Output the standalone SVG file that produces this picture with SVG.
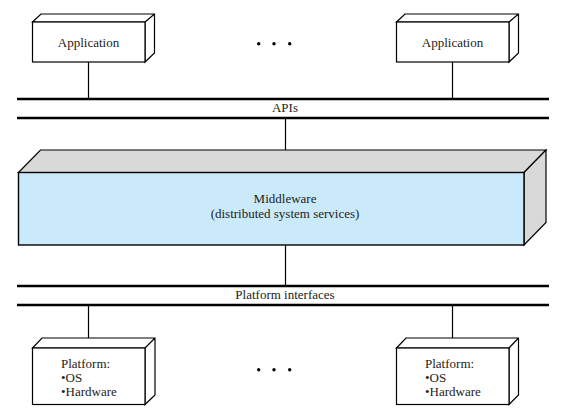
<svg xmlns="http://www.w3.org/2000/svg" width="563" height="420" viewBox="0 0 563 420">
<style>
text{font-family:"Liberation Serif","Times New Roman",serif;font-size:13px;fill:#222}
.box{fill:#fff;stroke:#000;stroke-width:1.2}
.bar{stroke:#000;stroke-width:2.4}
.ln{stroke:#000;stroke-width:1.2;fill:none}
.mid{text-anchor:middle}
</style>
<rect width="563" height="420" fill="#fff"/>
<g id="connectors">
<line class="ln" x1="88.5" y1="62" x2="88.5" y2="99"/>
<line class="ln" x1="452.5" y1="62" x2="452.5" y2="99"/>
<line class="ln" x1="285.5" y1="118" x2="285.5" y2="150"/>
<line class="ln" x1="285.5" y1="245" x2="285.5" y2="286"/>
<line class="ln" x1="88.5" y1="305" x2="88.5" y2="348"/>
<line class="ln" x1="452.5" y1="305" x2="452.5" y2="348"/>
</g>
<g id="apis">
<line class="bar" x1="17" y1="99" x2="549" y2="99"/>
<line class="bar" x1="17" y1="118" x2="549" y2="118"/>
<text class="mid" x="285" y="112">APIs</text>
</g>
<g id="platform-interfaces">
<line class="bar" x1="17" y1="286" x2="549" y2="286"/>
<line class="bar" x1="17" y1="305" x2="549" y2="305"/>
<text class="mid" x="285" y="299">Platform interfaces</text>
</g>
<g id="app1">
<path class="box" d="M32.5 22 L41 14 L154.5 14 L154.5 53 L145 62 L145 22 Z M145 22 L154.5 14"/>
<rect class="box" x="32.5" y="22" width="112.5" height="40"/>
<text class="mid" x="88.5" y="46.5">Application</text>
</g>
<g id="app2">
<path class="box" d="M396.5 22 L405 14 L518.5 14 L518.5 53 L509 62 L509 22 Z M509 22 L518.5 14"/>
<rect class="box" x="396.5" y="22" width="112.5" height="40"/>
<text class="mid" x="452.5" y="46.5">Application</text>
</g>
<g id="dots-top" fill="#000">
<circle cx="258.7" cy="43.7" r="1.7"/>
<circle cx="274" cy="43.7" r="1.7"/>
<circle cx="289.7" cy="43.7" r="1.7"/>
</g>
<g id="middleware">
<path d="M18.5 172.5 L40.5 150 L546 150 L524 172.5 Z" fill="#d9d9d9" stroke="#000" stroke-width="1.2"/>
<path d="M524 172.5 L546 150 L546 222.5 L524 245 Z" fill="#d9d9d9" stroke="#000" stroke-width="1.2"/>
<rect x="18.5" y="172.5" width="505.5" height="72.5" fill="#cbeaf9" stroke="#000" stroke-width="1.4"/>
<text class="mid" x="285" y="203">Middleware</text>
<text class="mid" x="285" y="218">(distributed system services)</text>
</g>
<g id="platform1">
<path class="box" d="M32.5 348 L42 338 L155 338 L155 395 L145 404.5 L145 348 Z M145 348 L155 338"/>
<rect class="box" x="32.5" y="348" width="112.5" height="56.5"/>
<text x="61" y="368">Platform:</text>
<text x="61" y="382">•OS</text>
<text x="61" y="396">•Hardware</text>
</g>
<g id="platform2">
<path class="box" d="M396.5 348 L406 338 L518.5 338 L518.5 395 L509 404.5 L509 348 Z M509 348 L518.5 338"/>
<rect class="box" x="396.5" y="348" width="112.5" height="56.5"/>
<text x="425" y="368">Platform:</text>
<text x="425" y="382">•OS</text>
<text x="425" y="396">•Hardware</text>
</g>
<g id="dots-bottom" fill="#000">
<circle cx="258.7" cy="369.7" r="1.7"/>
<circle cx="274" cy="369.7" r="1.7"/>
<circle cx="289.7" cy="369.7" r="1.7"/>
</g>
</svg>
